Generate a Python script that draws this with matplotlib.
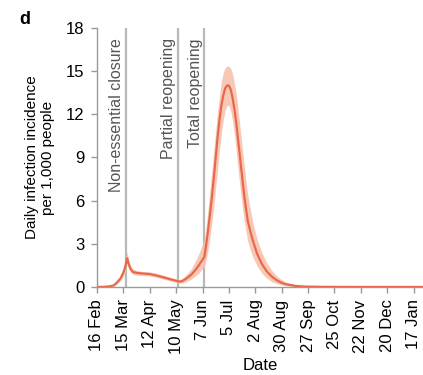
import numpy as np
import matplotlib
matplotlib.use("Agg")
import matplotlib.pyplot as plt
import matplotlib.dates as mdates

plt.rcParams["font.family"] = ["Liberation Sans", "DejaVu Sans"]

# days since 16 Feb 2020
day = [0, 7, 14, 18, 21, 25, 28, 30, 32, 34, 36, 38, 42, 49, 56, 63, 70, 77,
       84, 87, 90, 94, 100, 104, 108, 111, 114, 116, 118, 120, 122, 124, 126,
       128, 130, 132, 134, 136, 138, 140, 142, 144, 146, 148, 150, 152, 154,
       156, 158, 160, 163, 166, 170, 175, 180, 185, 190, 195, 200, 210, 220,
       240, 280, 346]
incidence = [0, 0.01, 0.05, 0.12, 0.3, 0.6, 1.0, 1.4, 2.0, 1.5, 1.2, 1.05, 0.98,
             0.93, 0.9, 0.8, 0.68, 0.55, 0.43, 0.38, 0.4, 0.55, 0.85, 1.15,
             1.5, 1.8, 2.1, 3.0, 4.0, 5.1, 6.3, 7.6, 9.0, 10.4, 11.6, 12.6,
             13.3, 13.8, 14.0, 14.0, 13.7, 13.1, 12.3, 11.3, 10.1, 8.9, 7.7,
             6.5, 5.5, 4.6, 3.8, 3.1, 2.3, 1.6, 1.1, 0.75, 0.5, 0.32, 0.2,
             0.08, 0.03, 0.01, 0.0, 0.0]
lower = [0, 0.0, 0.03, 0.08, 0.2, 0.42, 0.75, 1.1, 1.7, 1.3, 1.02, 0.88, 0.82,
         0.8, 0.77, 0.67, 0.55, 0.43, 0.32, 0.27, 0.27, 0.35, 0.55, 0.75,
         0.95, 1.2, 1.45, 1.9, 2.6, 3.5, 4.5, 5.6, 6.9, 8.2, 9.5, 10.7,
         11.6, 12.3, 12.6, 12.6, 12.2, 11.5, 10.5, 9.3, 8.0, 6.8, 5.7,
         4.7, 3.9, 3.2, 2.5, 2.0, 1.45, 0.95, 0.62, 0.4, 0.25, 0.15, 0.09,
         0.03, 0.01, 0.0, 0.0, 0.0]
upper = [0, 0.02, 0.08, 0.18, 0.42, 0.8, 1.3, 1.8, 2.45, 1.8, 1.45, 1.25, 1.15,
         1.08, 1.05, 0.95, 0.83, 0.69, 0.56, 0.51, 0.56, 0.8, 1.25, 1.75,
         2.3, 2.8, 3.3, 4.3, 5.5, 6.8, 8.1, 9.5, 10.9, 12.2, 13.3, 14.3,
         14.9, 15.25, 15.35, 15.35, 15.2, 14.8, 14.1, 13.3, 12.2, 11.0, 9.8,
         8.6, 7.4, 6.4, 5.3, 4.3, 3.3, 2.4, 1.7, 1.2, 0.82, 0.55, 0.36,
         0.15, 0.06, 0.02, 0.0, 0.0]

events = ["Non-essential closure", "Partial reopening", "Total reopening"]
event_day = [31, 86, 114]

start = np.datetime64("2020-02-16")
dates = start + np.array(day).astype("timedelta64[D]")
ev_dates = start + np.array(event_day).astype("timedelta64[D]")

fig = plt.figure(figsize=(4.23, 3.75), dpi=100)
ax = fig.add_axes([0.2293, 0.2347, 0.7707, 0.6907])

line_c = "#E8694A"
band_c = "#F8C2B0"
grey = "#9a9a9a"

for d, name in zip(ev_dates, events):
    ax.axvline(d, color="#b8b8b8", lw=1.6, zorder=1)
    ax.text(d - np.timedelta64(2, "D"), 17.3, name, rotation=90, ha="right",
            va="top", fontsize=11.5, color="#555555")

ax.fill_between(dates, lower, upper, color=band_c, lw=0, alpha=0.9, zorder=2)
ax.plot(dates, incidence, color=line_c, lw=1.6, zorder=3)

ax.set_ylim(0, 18)
ax.set_yticks([0, 3, 6, 9, 12, 15, 18])
ax.set_xlim(start, start + np.timedelta64(346, "D"))
ticks = start + np.arange(0, 13 * 28, 28).astype("timedelta64[D]")
ax.set_xticks(ticks)
ax.xaxis.set_major_formatter(mdates.DateFormatter("%-d %b"))
plt.setp(ax.get_xticklabels(), rotation=90)

for s in ["top", "right"]:
    ax.spines[s].set_visible(False)
for s in ["left", "bottom"]:
    ax.spines[s].set_color(grey)
    ax.spines[s].set_linewidth(1.0)
ax.tick_params(colors=grey, labelcolor="black", labelsize=12, length=4,
               width=1.0, pad=5)

ax.set_ylabel("Daily infection incidence\nper 1,000 people", fontsize=11,
              labelpad=8)
ax.set_xlabel("Date", fontsize=12, labelpad=3)

fig.text(0.045, 0.935, "d", fontsize=13, fontweight="bold")

fig.savefig("out.png", dpi=100)
